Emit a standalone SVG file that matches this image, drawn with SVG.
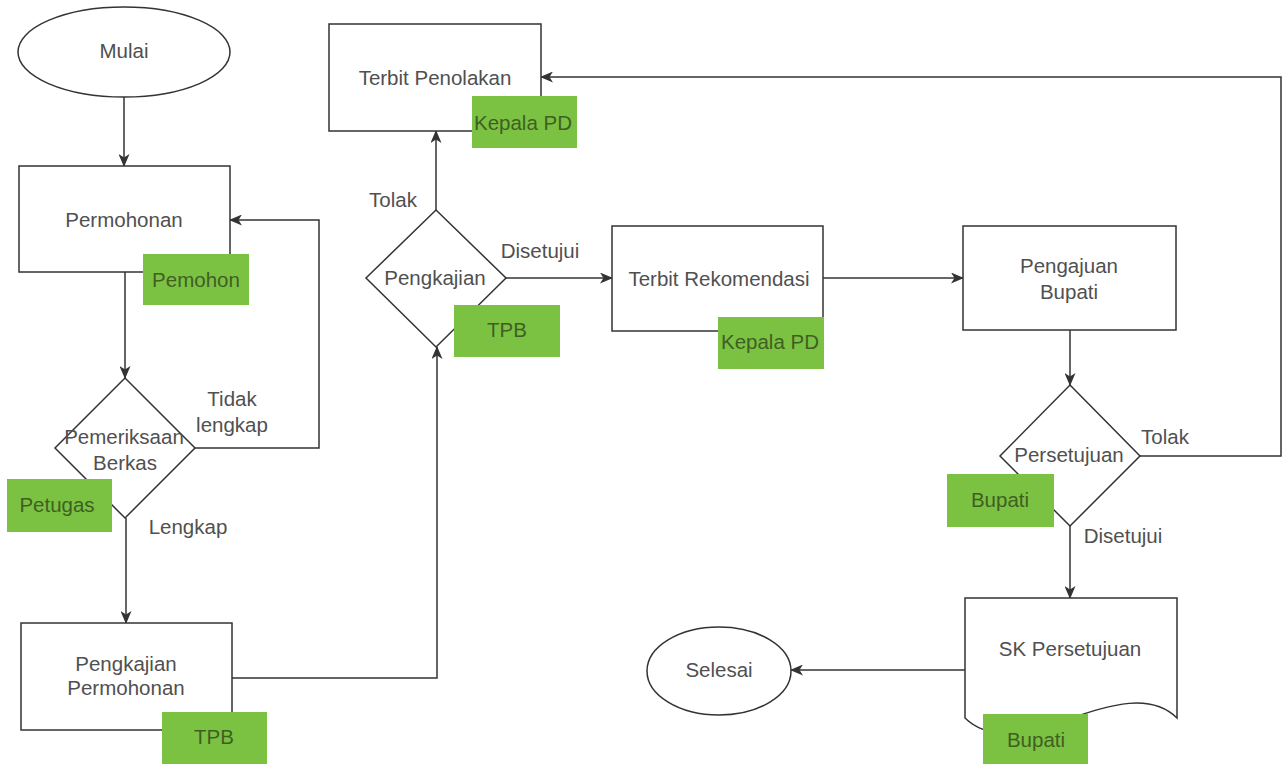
<svg xmlns="http://www.w3.org/2000/svg" width="1284" height="764" viewBox="0 0 1284 764">
<style>
.shape{fill:#ffffff;stroke:#333333;stroke-width:1.5}
.conn{fill:none;stroke:#333333;stroke-width:1.5}
.tag{fill:#7cc242}
text{font-family:"Liberation Sans",Arial,sans-serif;font-size:20.5px;text-anchor:middle}
.t{fill:#505050}
.tt{fill:#3f5f22}
</style>
<defs>
<marker id="arr" markerUnits="userSpaceOnUse" viewBox="0 0 13 11" refX="12" refY="5.5" markerWidth="13" markerHeight="11" orient="auto">
<path d="M0,0 L13,5.5 L0,11 L3.5,5.5 Z" fill="#333333"/>
</marker>
</defs>
<rect width="1284" height="764" fill="#ffffff"/>
<g id="connectors">
<path class="conn" d="M124,97 V166" marker-end="url(#arr)"/>
<path class="conn" d="M125,272 V378" marker-end="url(#arr)"/>
<path class="conn" d="M195,448 H319 V220 H230" marker-end="url(#arr)"/>
<path class="conn" d="M126,518 V623" marker-end="url(#arr)"/>
<path class="conn" d="M232,678 H437 V347" marker-end="url(#arr)"/>
<path class="conn" d="M436,210 V131" marker-end="url(#arr)"/>
<path class="conn" d="M506,278 H612" marker-end="url(#arr)"/>
<path class="conn" d="M823,278 H963" marker-end="url(#arr)"/>
<path class="conn" d="M1070,330 V385" marker-end="url(#arr)"/>
<path class="conn" d="M1140,456 H1281 V77 H541" marker-end="url(#arr)"/>
<path class="conn" d="M1070,526 V598" marker-end="url(#arr)"/>
<path class="conn" d="M965,670 H791" marker-end="url(#arr)"/>
<text class="t" x="232" y="406">Tidak</text>
<text class="t" x="232" y="432">lengkap</text>
<text class="t" x="188" y="534">Lengkap</text>
<text class="t" x="393" y="207">Tolak</text>
<text class="t" x="540" y="258">Disetujui</text>
<text class="t" x="1165" y="444">Tolak</text>
<text class="t" x="1123" y="543">Disetujui</text>
</g>
<g id="mulai">
<ellipse class="shape" cx="124" cy="52" rx="106" ry="45"/>
<text class="t" x="124" y="58">Mulai</text>
</g>
<g id="permohonan">
<rect class="shape" x="19" y="166" width="211" height="106"/>
<text class="t" x="124" y="227">Permohonan</text>
<rect class="tag" x="143" y="254" width="106" height="51"/>
<text class="tt" x="196" y="287">Pemohon</text>
</g>
<g id="pemeriksaan">
<polygon class="shape" points="125,378 195,448 125,518 55,448"/>
<text class="t" x="124" y="444">Pemeriksaan</text>
<text class="t" x="125" y="470">Berkas</text>
<rect class="tag" x="7" y="479" width="105" height="53"/>
<text class="tt" x="57" y="512">Petugas</text>
</g>
<g id="pengkajian-permohonan">
<rect class="shape" x="21" y="623" width="211" height="107"/>
<text class="t" x="126" y="671">Pengkajian</text>
<text class="t" x="126" y="695">Permohonan</text>
<rect class="tag" x="162" y="712" width="105" height="54"/>
<text class="tt" x="214" y="744">TPB</text>
</g>
<g id="pengkajian">
<polygon class="shape" points="436,210 506,278 436,347 366,278"/>
<text class="t" x="435" y="285">Pengkajian</text>
<rect class="tag" x="454" y="305" width="106" height="52"/>
<text class="tt" x="507" y="337">TPB</text>
</g>
<g id="terbit-penolakan">
<rect class="shape" x="329" y="24" width="212" height="107"/>
<text class="t" x="435" y="85">Terbit Penolakan</text>
<rect class="tag" x="472" y="96" width="105" height="52"/>
<text class="tt" x="523" y="130">Kepala PD</text>
</g>
<g id="terbit-rekomendasi">
<rect class="shape" x="612" y="226" width="211" height="105"/>
<text class="t" x="719" y="286">Terbit Rekomendasi</text>
<rect class="tag" x="718" y="317" width="106" height="52"/>
<text class="tt" x="770" y="349">Kepala PD</text>
</g>
<g id="pengajuan-bupati">
<rect class="shape" x="963" y="226" width="213" height="104"/>
<text class="t" x="1069" y="273">Pengajuan</text>
<text class="t" x="1069" y="299">Bupati</text>
</g>
<g id="persetujuan">
<polygon class="shape" points="1070,385 1140,456 1070,526 1000,456"/>
<text class="t" x="1069" y="462">Persetujuan</text>
<rect class="tag" x="947" y="474" width="107" height="53"/>
<text class="tt" x="1000" y="507">Bupati</text>
</g>
<g id="sk-persetujuan">
<path class="shape" d="M965,598 H1177 V718 C1124,666 1018,770 965,718 Z"/>
<text class="t" x="1070" y="656">SK Persetujuan</text>
<rect class="tag" x="983" y="714" width="105" height="52"/>
<text class="tt" x="1036" y="747">Bupati</text>
</g>
<g id="selesai">
<ellipse class="shape" cx="719" cy="671" rx="72" ry="44"/>
<text class="t" x="719" y="677">Selesai</text>
</g>
</svg>
